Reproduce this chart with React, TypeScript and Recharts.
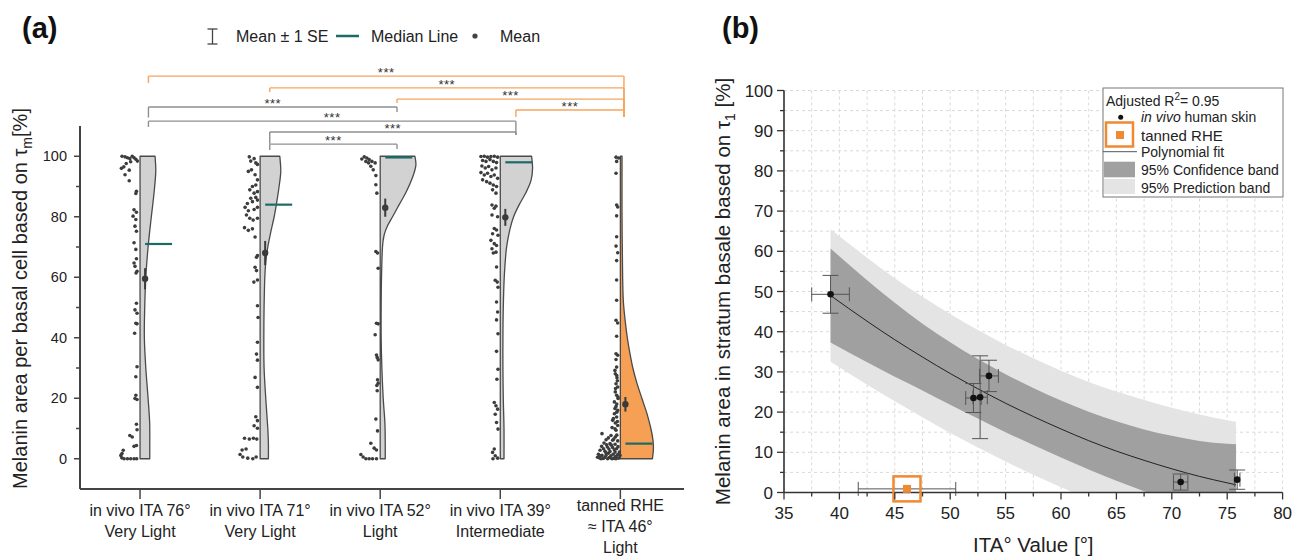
import React from 'react';
import {
  ComposedChart,
  Scatter,
  XAxis,
  YAxis,
  ReferenceLine,
  ReferenceDot,
  ErrorBar,
  Area,
  Line,
  CartesianGrid,
} from 'recharts';

const FONT = '"Liberation Sans", Arial, Helvetica, sans-serif';
const INK = '#222';
const AXIS = '#444';
const TEAL = '#1D6B67';
const ORANGE_BR = '#F7A45C';
const GRAY_BR = '#8f8f8f';
const VIOLIN_GRAY = '#d2d2d2';
const VIOLIN_ORANGE = '#F5A055';
const ORANGE = '#F08A32';

// ---------------- Panel (a) data ----------------
const groupPositions = [1, 2, 3, 4, 5];
const groupLabels = [
  ['in vivo ITA 76°', 'Very Light'],
  ['in vivo ITA 71°', 'Very Light'],
  ['in vivo ITA 52°', 'Light'],
  ['in vivo ITA 39°', 'Intermediate'],
  ['tanned RHE', '≈ ITA 46°', 'Light'],
];
const yTicksA = [0, 10, 20, 30, 40, 50, 60, 70, 80, 90, 100];

// density half-widths [value, width in category units]
const violin1 = [[0, 0.081], [5, 0.081], [12, 0.08], [20, 0.067], [30, 0.048], [40, 0.036], [50, 0.039], [60, 0.048], [70, 0.067], [80, 0.094], [88, 0.117], [95, 0.131], [100, 0.125]];
const violin2 = [[0, 0.069], [5, 0.069], [10, 0.064], [20, 0.047], [30, 0.033], [40, 0.031], [50, 0.033], [60, 0.039], [65, 0.047], [70, 0.064], [75, 0.089], [80, 0.117], [85, 0.139], [90, 0.158], [95, 0.172], [100, 0.164]];
const violin3 = [[0, 0.042], [5, 0.042], [12, 0.039], [20, 0.025], [30, 0.014], [40, 0.008], [50, 0.008], [60, 0.011], [70, 0.019], [74, 0.033], [77, 0.061], [80, 0.103], [84, 0.158], [88, 0.214], [93, 0.269], [97, 0.297], [100, 0.289]];
const violin4 = [[0, 0.031], [10, 0.031], [20, 0.025], [30, 0.022], [40, 0.022], [50, 0.025], [60, 0.033], [68, 0.047], [72, 0.061], [76, 0.081], [80, 0.111], [84, 0.158], [88, 0.214], [92, 0.256], [96, 0.269], [100, 0.261]];
const violin5 = [[0, 0.267], [3, 0.275], [6, 0.272], [10, 0.254], [15, 0.221], [20, 0.179], [25, 0.138], [30, 0.104], [35, 0.079], [40, 0.058], [45, 0.042], [52, 0.025], [60, 0.019], [80, 0.014], [100, 0.014]];

// individual measurements [jitter offset, value]
const points1 = [[-0.15, 100], [-0.125, 99.8], [-0.105, 99.5], [-0.085, 99.2], [-0.065, 100], [-0.05, 99.5], [-0.035, 99], [-0.022, 98.4], [-0.155, 96], [-0.135, 96.5], [-0.115, 97.6], [-0.09, 95.4], [-0.078, 98.2], [-0.125, 93.9], [-0.09, 91.9], [-0.03, 88.4], [-0.035, 87.7], [-0.05, 82.3], [-0.03, 81.5], [-0.058, 80.2], [-0.035, 79.1], [-0.042, 76.9], [-0.03, 75.2], [-0.05, 71.4], [-0.035, 69.2], [-0.03, 66.1], [-0.05, 64.7], [-0.042, 63.6], [-0.025, 62], [-0.033, 61.4], [-0.03, 51.4], [-0.042, 49.2], [-0.025, 48.1], [-0.035, 44.8], [-0.025, 44.6], [-0.045, 41.5], [-0.025, 30.4], [-0.035, 27.1], [-0.035, 21], [-0.025, 19.6], [-0.042, 19.9], [-0.03, 11.4], [-0.025, 9.6], [-0.085, 7.7], [-0.065, 7.2], [-0.05, 4.1], [-0.03, 4.4], [-0.14, 2.8], [-0.16, 1.1], [-0.152, 0.3], [-0.133, 0], [-0.105, 0], [-0.078, 0], [-0.05, 0], [-0.028, 0], [-0.15, 1.7]];
const points2 = [[-0.09, 99.8], [-0.078, 98.4], [-0.05, 99.2], [-0.036, 97.8], [-0.022, 97.3], [-0.098, 95], [-0.072, 95.5], [-0.042, 93.9], [-0.022, 92.2], [-0.036, 90.5], [-0.064, 90], [-0.086, 88.9], [-0.05, 87.8], [-0.022, 88.3], [-0.036, 86.4], [-0.078, 86.1], [-0.106, 84.4], [-0.064, 85], [-0.022, 85.5], [-0.125, 83.1], [-0.098, 82], [-0.05, 82.4], [-0.022, 83.1], [-0.114, 80.6], [-0.086, 79.5], [-0.058, 78.9], [-0.022, 79.5], [-0.13, 76.4], [-0.098, 75.5], [-0.064, 76], [-0.042, 73.3], [-0.022, 67.2], [-0.03, 66.6], [-0.042, 63.3], [-0.03, 62.2], [-0.052, 58.4], [-0.022, 59.1], [-0.022, 50.6], [-0.017, 46.7], [-0.022, 38.5], [-0.03, 34.6], [-0.022, 32.6], [-0.042, 26.9], [-0.022, 23.6], [-0.036, 13.9], [-0.022, 12.6], [-0.05, 10.9], [-0.022, 10.1], [-0.13, 6.8], [-0.09, 6.5], [-0.056, 6.8], [-0.028, 6.5], [-0.15, 2.9], [-0.117, 3.2], [-0.167, 1.4], [-0.144, 0.6], [-0.103, 0.2], [-0.061, 0], [-0.033, 0.6]];
const points3 = [[-0.153, 99.1], [-0.133, 99.8], [-0.111, 99.4], [-0.092, 98.9], [-0.069, 98.3], [-0.042, 97.8], [-0.119, 98.3], [-0.097, 97.8], [-0.078, 96.7], [-0.058, 95.5], [-0.036, 93.6], [-0.036, 90.6], [-0.028, 87.8], [-0.036, 68.5], [-0.022, 68], [-0.017, 63], [-0.031, 44.8], [-0.017, 44.6], [-0.042, 41], [-0.031, 34.3], [-0.025, 33.5], [-0.017, 32.7], [-0.022, 26.1], [-0.017, 25], [-0.028, 24.2], [-0.025, 22.5], [-0.036, 13.1], [-0.022, 9.2], [-0.078, 5.1], [-0.05, 3.5], [-0.031, 2.9], [-0.161, 1.4], [-0.142, 0.6], [-0.119, 0], [-0.092, 0], [-0.064, 0], [-0.031, 0]];
const points4 = [[-0.161, 99.9], [-0.133, 100], [-0.106, 99.7], [-0.078, 99.9], [-0.05, 100], [-0.022, 99.7], [-0.147, 98.6], [-0.119, 98.3], [-0.086, 98.9], [-0.058, 98.3], [-0.031, 97.9], [-0.153, 96.8], [-0.125, 96.1], [-0.097, 96.6], [-0.069, 95.5], [-0.036, 96.1], [-0.161, 94.6], [-0.133, 93.8], [-0.106, 94.4], [-0.078, 93.3], [-0.05, 93.8], [-0.022, 92.7], [-0.147, 92.2], [-0.114, 91.6], [-0.086, 91.1], [-0.058, 90.5], [-0.031, 90], [-0.064, 88.9], [-0.036, 87.8], [-0.069, 83.9], [-0.05, 82.8], [-0.036, 83.5], [-0.069, 80.6], [-0.022, 80], [-0.05, 76.1], [-0.031, 75.6], [-0.064, 74.4], [-0.019, 73.9], [-0.078, 72.2], [-0.05, 71.1], [-0.031, 70.5], [-0.069, 69.4], [-0.058, 68], [-0.036, 68.3], [-0.031, 63.4], [-0.042, 59], [-0.025, 58.4], [-0.019, 56.7], [-0.031, 51.8], [-0.022, 48.5], [-0.031, 45.9], [-0.019, 41.3], [-0.031, 35.5], [-0.019, 29.6], [-0.028, 26.3], [-0.05, 18.6], [-0.036, 17.5], [-0.022, 16.4], [-0.042, 14.7], [-0.031, 12], [-0.019, 9.8], [-0.05, 3.2], [-0.064, 2.1], [-0.042, 1], [-0.022, 0.2], [-0.061, 0]];
const points5 = [[-0.036, 99.7], [-0.014, 99.4], [-0.031, 98.3], [-0.036, 94.4], [-0.031, 83.9], [-0.022, 83.2], [-0.031, 80.3], [-0.031, 73.4], [-0.036, 70.3], [-0.022, 68.1], [-0.031, 65.5], [-0.031, 59.1], [-0.031, 52.4], [-0.036, 45.8], [-0.022, 44.9], [-0.031, 40.5], [-0.036, 34.7], [-0.022, 34.2], [-0.036, 32.8], [-0.031, 30.3], [-0.042, 28.1], [-0.028, 26.8], [-0.036, 24.8], [-0.022, 23.7], [-0.042, 22.1], [-0.031, 21], [-0.019, 19.9], [-0.05, 18.8], [-0.036, 17.3], [-0.022, 16], [-0.05, 14.9], [-0.031, 13.8], [-0.064, 12.7], [-0.042, 11.8], [-0.022, 11], [-0.069, 10.3], [-0.036, 9.4], [-0.153, 8.3], [-0.078, 7.7], [-0.042, 7.2], [-0.119, 6.3], [-0.064, 6.1], [-0.022, 5.9], [-0.136, 5.2], [-0.086, 5], [-0.044, 4.8], [-0.156, 4.1], [-0.108, 3.9], [-0.064, 3.7], [-0.031, 3.3], [-0.169, 2.8], [-0.128, 2.5], [-0.086, 2.4], [-0.044, 2.2], [-0.008, 2.2], [-0.183, 1.5], [-0.153, 1.1], [-0.119, 1.1], [-0.078, 1], [-0.036, 0.8], [-0.175, 0.3], [-0.142, 0.1], [-0.106, 0], [-0.069, 0], [-0.036, 0], [-0.014, 0.2], [-0.161, 0], [-0.044, 0.6], [-0.003, 1.1], [-0.1, 1.8], [-0.12, 2.0], [-0.09, 0.5], [-0.13, 0.4], [-0.06, 1.5], [-0.05, 3.0], [-0.02, 4.0], [-0.095, 3.2], [-0.075, 4.5], [-0.14, 3.3], [-0.115, 4.6], [-0.055, 6.5], [-0.03, 7.8], [-0.1, 6.9], [-0.045, 9.9], [-0.025, 12.3], [-0.058, 13.3], [-0.03, 15.4], [-0.045, 16.6], [-0.03, 18.1], [-0.02, 20.4], [-0.04, 23.2], [-0.025, 25.8], [-0.03, 27.5], [-0.045, 29.2], [-0.17, 1.0], [-0.19, 0.5], [-0.082, 0.3], [-0.052, 0.1], [-0.022, 1.4]];

const medianValues = [71, 84, 99.6, 98, 5];
const meanValues = [59.5, 68, 83, 79.8, 18];
const seValues = [3.5, 4, 3, 2.8, 2.4];

// significance brackets: [fromGroup, toGroup, level, leftLegEnd, rightLegEnd]
const bracketAnchors = [1.07, 2.08, 3.14, 4.13, 5.03];
const orangeBrackets = [[0, 4, 126.5, 124.2, 113], [1, 4, 122.6, 121.2, 113], [2, 4, 118.9, 117.6, 113], [3, 4, 115.3, 113, 113]];
const grayBrackets = [[0, 2, 116.3, 112.8, 114.6], [0, 3, 111.6, 109.7, 107], [1, 3, 108, 104.1, 107], [1, 2, 104, 102.1, 102.4]];
const significance = '***';

// ---------------- Panel (b) data ----------------
const skinITA = [39.2, 52.1, 52.7, 53.5, 70.8, 75.9];
const skinITAErr = [1.7, 0.7, 0.65, 0.85, 0.65, 0.25];
const skinMelanin = [49.3, 23.5, 23.7, 29.0, 2.6, 3.2];
const skinMelaninErr = [4.7, 3.6, 10.3, 3.9, 2.0, 2.4];
const rheITA = [46.1];
const rheITAErr = [4.4];
const rheMelanin = [0.9];

const fitX = [39.2, 42.5, 45, 47.5, 50, 52.5, 55, 57.5, 60, 62.5, 65, 67.5, 70, 72.5, 75, 75.8];
const fitY = [49.0, 42.6, 38.0, 33.7, 29.6, 25.8, 22.2, 18.9, 15.8, 12.9, 10.3, 8.0, 5.9, 4.0, 2.4, 1.9];
const confLow = [37.3, 32.4, 28.8, 25.4, 21.8, 18.4, 15.0, 11.8, 8.7, 5.7, 2.9, 0.3, -2.3, -4.8, -7.3, -8.2];
const confHigh = [60.7, 52.8, 47.2, 42.0, 37.4, 33.2, 29.4, 26.0, 22.9, 20.1, 17.7, 15.7, 14.1, 12.8, 12.1, 12.0];
const predLow = [32.5, 26.8, 22.7, 18.7, 14.8, 11.2, 7.7, 4.4, 1.3, -1.7, -4.5, -7.0, -9.3, -11.4, -13.2, -13.8];
const predHigh = [65.5, 58.4, 53.3, 48.7, 44.4, 40.4, 36.7, 33.4, 30.3, 27.5, 25.1, 23.0, 21.1, 19.4, 18.0, 17.6];

const xTicksB = [35, 37.5, 40, 42.5, 45, 47.5, 50, 52.5, 55, 57.5, 60, 62.5, 65, 67.5, 70, 72.5, 75, 77.5, 80];
const yTicksB = [0, 5, 10, 15, 20, 25, 30, 35, 40, 45, 50, 55, 60, 65, 70, 75, 80, 85, 90, 95, 100];

// ---------------- derived series ----------------
const violins = [violin1, violin2, violin3, violin4, violin5];
const pointSets = [points1, points2, points3, points4, points5];

const violinSeries = violins.map((dens, i) => {
  const c = groupPositions[i];
  const edge = dens.map(([v, w]) => ({ x: c + w, y: v }));
  return [...edge, { x: c, y: dens[dens.length - 1][0] }, { x: c, y: dens[0][0] }];
});
const jitterData = pointSets.flatMap((set, i) => set.map(([dx, v]) => ({ x: groupPositions[i] + dx, y: v })));
const MED_START = 0.042;
const MED_END = 0.267;
const medianSeries = medianValues.map((m, i) => [
  { x: groupPositions[i] + MED_START, y: m },
  { x: groupPositions[i] + MED_END, y: m },
]);
const meanData = meanValues.map((m, i) => ({ x: groupPositions[i] + MED_START, y: m }));
const seSeries = meanValues.map((m, i) => [
  { x: groupPositions[i] + MED_START, y: m - seValues[i] },
  { x: groupPositions[i] + MED_START, y: m + seValues[i] },
]);

const skinData = skinITA.map((x, i) => ({ x, y: skinMelanin[i], ex: skinITAErr[i], ey: skinMelaninErr[i] }));
const rheData = rheITA.map((x, i) => ({ x, y: rheMelanin[i], ex: rheITAErr[i] }));
const fitData = fitX.map((x, i) => ({ x, y: fitY[i] }));
const bandData = fitX.map((x, i) => ({ x, conf: [confLow[i], confHigh[i]], pred: [predLow[i], predHigh[i]] }));

function catmull(pts: { x: number; y: number }[]) {
  let d = '';
  for (let i = 0; i < pts.length - 1; i++) {
    const p0 = pts[i - 1] || pts[i];
    const p1 = pts[i];
    const p2 = pts[i + 1];
    const p3 = pts[i + 2] || p2;
    const c1x = p1.x + (p2.x - p0.x) / 6;
    const c1y = p1.y + (p2.y - p0.y) / 6;
    const c2x = p2.x - (p3.x - p1.x) / 6;
    const c2y = p2.y - (p3.y - p1.y) / 6;
    d += ` C${c1x.toFixed(2)},${c1y.toFixed(2)} ${c2x.toFixed(2)},${c2y.toFixed(2)} ${p2.x.toFixed(2)},${p2.y.toFixed(2)}`;
  }
  return d;
}

const makeViolinLine = (fill: string) => (props: any) => {
  const pts = (props.points || []) as { x: number; y: number }[];
  if (pts.length < 4) return <g />;
  const n = pts.length;
  const edge = pts.slice(0, n - 2);
  const tl = pts[n - 2];
  const bl = pts[n - 1];
  const d = `M${bl.x},${bl.y} L${edge[0].x},${edge[0].y}${catmull(edge)} L${tl.x},${tl.y} Z`;
  return <path d={d} fill={fill} stroke="#4a4a4a" strokeWidth={1.3} strokeLinejoin="round" />;
};

const emptyShape = () => <g />;
const jitterShape = (p: any) => <circle cx={p.cx} cy={p.cy} r={1.8} fill="#3d3d3d" />;
const meanShape = (p: any) => <circle cx={p.cx} cy={p.cy} r={3.2} fill="#3a3a3a" />;
const starShape = (p: any) => (
  <text x={p.cx} y={p.cy + 1} textAnchor="middle" fontSize={13} letterSpacing={0.5} fill="#333" fontFamily={FONT}>
    {significance}
  </text>
);

const renderXTickA = (p: any) => {
  const idx = groupPositions.indexOf(p.payload.value);
  const lines = groupLabels[idx] || [];
  const first = lines.length > 2 ? 12 : 17;
  return (
    <g>
      {lines.map((l, k) => (
        <text key={k} x={p.x} y={p.y + first + k * 21} textAnchor="middle" fontSize={16} fill={INK} fontFamily={FONT}>
          {l}
        </text>
      ))}
    </g>
  );
};

const renderYTickA = (p: any) => {
  const v = p.payload.value;
  const major = v % 20 === 0;
  return (
    <g>
      <line x1={p.x - (major ? 6 : 4)} x2={p.x} y1={p.y} y2={p.y} stroke={AXIS} strokeWidth={1.5} />
      {major && (
        <text x={p.x - 13} y={p.y} dy="0.36em" textAnchor="end" fontSize={14.5} fill={INK} fontFamily={FONT}>
          {v}
        </text>
      )}
    </g>
  );
};

const renderXTickB = (p: any) => {
  const v = p.payload.value;
  const major = v % 5 === 0;
  return (
    <g>
      <line x1={p.x} x2={p.x} y1={p.y} y2={p.y + (major ? 7 : 4)} stroke="#333" strokeWidth={1.3} />
      {major && (
        <text x={p.x} y={p.y + 26.5} textAnchor="middle" fontSize={17} fill={INK} fontFamily={FONT}>
          {v}
        </text>
      )}
    </g>
  );
};

const renderYTickB = (p: any) => {
  const v = p.payload.value;
  const major = v % 10 === 0;
  return (
    <g>
      <line x1={p.x - (major ? 7 : 4)} x2={p.x} y1={p.y} y2={p.y} stroke="#333" strokeWidth={1.3} />
      {major && (
        <text x={p.x - 11} y={p.y} dy="0.36em" textAnchor="end" fontSize={17} fill={INK} fontFamily={FONT}>
          {v}
        </text>
      )}
    </g>
  );
};

const yLabelA = (p: any) => {
  const vb = p.viewBox || { x: 20, y: 126, width: 60, height: 363 };
  const cx = vb.x;
  const cy = vb.y + vb.height / 2 - 9;
  return (
    <text transform={`translate(${cx},${cy}) rotate(-90)`} textAnchor="middle" dy="0.35em" fontSize={20} fill={INK} fontFamily={FONT}>
      Melanin area per basal cell based on τ
      <tspan dy={5} fontSize={14}>m</tspan>
      <tspan dy={-5}>[%]</tspan>
    </text>
  );
};

const yLabelB = (p: any) => {
  const vb = p.viewBox || { x: 24, y: 90.5, width: 60, height: 402 };
  const cx = vb.x - 1;
  const cy = vb.y + vb.height / 2;
  return (
    <text transform={`translate(${cx},${cy}) rotate(-90)`} textAnchor="middle" dy="0.35em" fontSize={20.5} fill={INK} fontFamily={FONT}>
      Melanin area in stratum basale based on τ
      <tspan dy={5} fontSize={14}>1</tspan>
      <tspan dy={-5}> [%]</tspan>
    </text>
  );
};

const xLabelB = (p: any) => {
  const vb = p.viewBox || { x: 84, y: 492.5, width: 498.6, height: 50 };
  return (
    <text x={vb.x + vb.width / 2} y={vb.y + 59.5} textAnchor="middle" fontSize={20.5} fill={INK} fontFamily={FONT}>
      ITA° Value [°]
    </text>
  );
};

const rheShape = (p: any) => (
  <g>
    <rect x={p.cx - 13.5} y={p.cy - 12.5} width={27} height={25} fill="none" stroke={ORANGE} strokeWidth={2.5} />
    <rect x={p.cx - 4} y={p.cy - 4} width={8} height={8} fill={ORANGE} />
  </g>
);
const skinShape = (p: any) => <circle cx={p.cx} cy={p.cy} r={3.3} fill="#111" />;

function PanelA() {
  const brackets = [
    ...orangeBrackets.map((b) => ({ b, color: ORANGE_BR })),
    ...grayBrackets.map((b) => ({ b, color: GRAY_BR })),
  ];
  return (
    <ComposedChart width={700} height={560} margin={{ top: 126, right: 16, bottom: 11, left: 20 }}>
      <XAxis
        type="number"
        dataKey="x"
        domain={[0.5, 5.53]}
        ticks={groupPositions}
        interval={0}
        tickSize={10}
        tickMargin={0}
        tick={renderXTickA}
        tickLine={{ stroke: AXIS, strokeWidth: 1.5 }}
        axisLine={{ stroke: AXIS, strokeWidth: 2 }}
        height={60}
      />
      <YAxis
        type="number"
        dataKey="y"
        domain={[-10, 110]}
        ticks={yTicksA}
        interval={0}
        tickSize={0}
        tickMargin={0}
        tickLine={false}
        tick={renderYTickA}
        axisLine={{ stroke: AXIS, strokeWidth: 2 }}
        width={60}
        label={{ content: yLabelA }}
      />
      {violinSeries.map((data, i) => (
        <Scatter
          key={`v${i}`}
          data={data}
          shape={emptyShape}
          line={makeViolinLine(i === 4 ? VIOLIN_ORANGE : VIOLIN_GRAY)}
          isAnimationActive={false}
        />
      ))}
      <Scatter data={jitterData} shape={jitterShape} isAnimationActive={false} />
      {medianSeries.map((data, i) => (
        <Scatter
          key={`m${i}`}
          data={data}
          shape={emptyShape}
          line={{ stroke: TEAL, strokeWidth: 2.2 }}
          isAnimationActive={false}
        />
      ))}
      {seSeries.map((data, i) => (
        <Scatter
          key={`se${i}`}
          data={data}
          shape={emptyShape}
          line={{ stroke: '#3a3a3a', strokeWidth: 2 }}
          isAnimationActive={false}
        />
      ))}
      <Scatter data={meanData} shape={meanShape} isAnimationActive={false} />
      {brackets.map(({ b, color }, k) => {
        const [from, to, level, le, re] = b;
        const x1 = bracketAnchors[from];
        const x2 = bracketAnchors[to];
        return (
          <React.Fragment key={`b${k}`}>
            <ReferenceLine segment={[{ x: x1, y: level }, { x: x2, y: level }]} stroke={color} strokeWidth={1.4} ifOverflow="visible" />
            <ReferenceLine segment={[{ x: x1, y: level }, { x: x1, y: le }]} stroke={color} strokeWidth={1.4} ifOverflow="visible" />
            <ReferenceLine segment={[{ x: x2, y: level }, { x: x2, y: re }]} stroke={color} strokeWidth={1.4} ifOverflow="visible" />
            <ReferenceDot x={(x1 + x2) / 2} y={level} r={0} ifOverflow="visible" shape={starShape} />
          </React.Fragment>
        );
      })}
    </ComposedChart>
  );
}

function PanelB() {
  return (
    <ComposedChart width={604} height={560} margin={{ top: 90.5, right: 21.4, bottom: 17.5, left: 24 }}>
      <CartesianGrid stroke="#d9d9d9" strokeDasharray="3 3" />
      <XAxis
        type="number"
        dataKey="x"
        domain={[35, 80]}
        ticks={xTicksB}
        interval={0}
        tickSize={0}
        tickMargin={0}
        tickLine={false}
        tick={renderXTickB}
        axisLine={{ stroke: '#333', strokeWidth: 1.6 }}
        height={50}
        label={{ content: xLabelB }}
      />
      <YAxis
        type="number"
        dataKey="y"
        domain={[0, 100]}
        ticks={yTicksB}
        interval={0}
        tickSize={0}
        tickMargin={0}
        tickLine={false}
        tick={renderYTickB}
        axisLine={{ stroke: '#333', strokeWidth: 1.6 }}
        width={60}
        label={{ content: yLabelB }}
      />
      <YAxis yAxisId="band" type="number" domain={[0, 100]} allowDataOverflow hide />
      <Area yAxisId="band" data={bandData} dataKey="pred" type="monotone" fill="#e4e4e4" fillOpacity={1} stroke="none" isAnimationActive={false} />
      <Area yAxisId="band" data={bandData} dataKey="conf" type="monotone" fill="#a0a0a0" fillOpacity={1} stroke="none" isAnimationActive={false} />
      <Line data={fitData} dataKey="y" type="monotone" stroke="#222" strokeWidth={1} dot={false} isAnimationActive={false} />
      <Scatter data={skinData} shape={skinShape} isAnimationActive={false}>
        <ErrorBar dataKey="ex" direction="x" width={7} stroke="#555" strokeWidth={1} isAnimationActive={false} />
        <ErrorBar dataKey="ey" direction="y" width={8} stroke="#555" strokeWidth={1} isAnimationActive={false} />
      </Scatter>
      <Scatter data={rheData} shape={rheShape} isAnimationActive={false}>
        <ErrorBar dataKey="ex" direction="x" width={7} stroke="#555" strokeWidth={1} isAnimationActive={false} />
      </Scatter>
    </ComposedChart>
  );
}

function Overlay() {
  return (
    <svg width={1304} height={560} style={{ position: 'absolute', left: 0, top: 0, pointerEvents: 'none' }} fontFamily={FONT}>
      <text x={22} y={38} fontSize={29} fontWeight="bold" fill="#111">(a)</text>
      <text x={722} y={38} fontSize={29} fontWeight="bold" fill="#111">(b)</text>
      {/* legend (a) */}
      <line x1={212.5} x2={212.5} y1={29} y2={44} stroke="#444" strokeWidth={1.3} />
      <line x1={207.5} x2={217.5} y1={29} y2={29} stroke="#444" strokeWidth={1.3} />
      <line x1={207.5} x2={217.5} y1={44} y2={44} stroke="#444" strokeWidth={1.3} />
      <text x={236} y={41.5} fontSize={16} fill={INK}>Mean ± 1 SE</text>
      <line x1={336} x2={359} y1={36} y2={36} stroke={TEAL} strokeWidth={2.5} />
      <text x={371} y={41.5} fontSize={16} fill={INK}>Median Line</text>
      <circle cx={475} cy={36} r={2.6} fill="#444" />
      <text x={500} y={41.5} fontSize={16} fill={INK}>Mean</text>
      {/* legend (b) */}
      <rect x={1103} y={88} width={180} height={109} fill="#fff" stroke="#777" strokeWidth={1} />
      <text x={1106} y={105.7} fontSize={14} fill={INK}>
        Adjusted R<tspan dy={-6} fontSize={10}>2</tspan>
        <tspan dy={6}>= 0.95</tspan>
      </text>
      <circle cx={1120.7} cy={117.3} r={2.5} fill="#111" />
      <text x={1141} y={122} fontSize={14} fill={INK}>
        <tspan fontStyle="italic">in vivo</tspan> human skin
      </text>
      <rect x={1106} y={122.5} width={27} height={24} fill="none" stroke={ORANGE} strokeWidth={2.5} />
      <rect x={1116} y={131} width={8} height={8} fill={ORANGE} />
      <text x={1141} y={140.5} fontSize={15} fill={INK}>tanned RHE</text>
      <line x1={1103} x2={1137} y1={151.7} y2={151.7} stroke="#555" strokeWidth={1} />
      <text x={1141} y={157} fontSize={14} fill={INK}>Polynomial fit</text>
      <rect x={1104} y={161.7} width={31} height={15.6} fill="#a0a0a0" />
      <text x={1141} y={175} fontSize={14} fill={INK}>95% Confidence band</text>
      <rect x={1104} y={179} width={31} height={15} fill="#e4e4e4" />
      <text x={1141} y={192.7} fontSize={14} fill={INK}>95% Prediction band</text>
    </svg>
  );
}

export default function App() {
  return (
    <div style={{ position: 'absolute', left: 0, top: 0, width: 1304, height: 560, background: '#fff', overflow: 'hidden' }}>
      <div style={{ position: 'absolute', left: 0, top: 0 }}>
        <PanelA />
      </div>
      <div style={{ position: 'absolute', left: 700, top: 0 }}>
        <PanelB />
      </div>
      <Overlay />
    </div>
  );
}
